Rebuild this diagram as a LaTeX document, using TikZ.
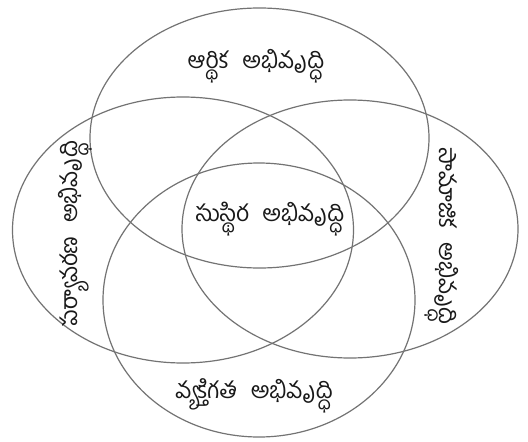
\documentclass[tikz,border=0pt]{standalone}
\usepackage{fontspec}
\newfontfamily\telugu[Script=Telugu]{Hind Guntur}
\usetikzlibrary{shapes.geometric}
\newcommand{\wgap}{\hspace{0.6em}}
\begin{document}
\begin{tikzpicture}[x=1pt,y=-1pt,
  ring/.style={ellipse, draw=black!55, line width=1.2pt, inner sep=0pt},
  lbl/.style={font=\telugu\fontsize{23}{26}\selectfont, text=black!90, inner sep=0pt}]
\useasboundingbox (0,0) rectangle (528,442);
\fill[white] (0,0) rectangle (528,442);
\node[ring, minimum width=339pt, minimum height=260pt] (top) at (259.5,138) {};
\node[ring, minimum width=341pt, minimum height=266pt] (left) at (183,230) {};
\node[ring, minimum width=336pt, minimum height=258pt] (right) at (350,229) {};
\node[ring, minimum width=312pt, minimum height=274pt] (bottom) at (259,300) {};
\node[lbl] (t1) at (256,66) {ఆర్థిక\wgap అభివృద్ధి};
\node[lbl] (t2) at (270,219) {సుస్థిర\wgap అభివృద్ధి};
\node[lbl] (t3) at (254,396) {వ్యక్తిగత\wgap అభివృద్ధి};
\node[lbl, rotate=90] (t4) at (75,234) {పర్యావరణ\wgap అభివృద్ధి};
\node[lbl, rotate=-90] (t5) at (442,236) {సామాజిక\wgap అభివృద్ధి};
\end{tikzpicture}
\end{document}
